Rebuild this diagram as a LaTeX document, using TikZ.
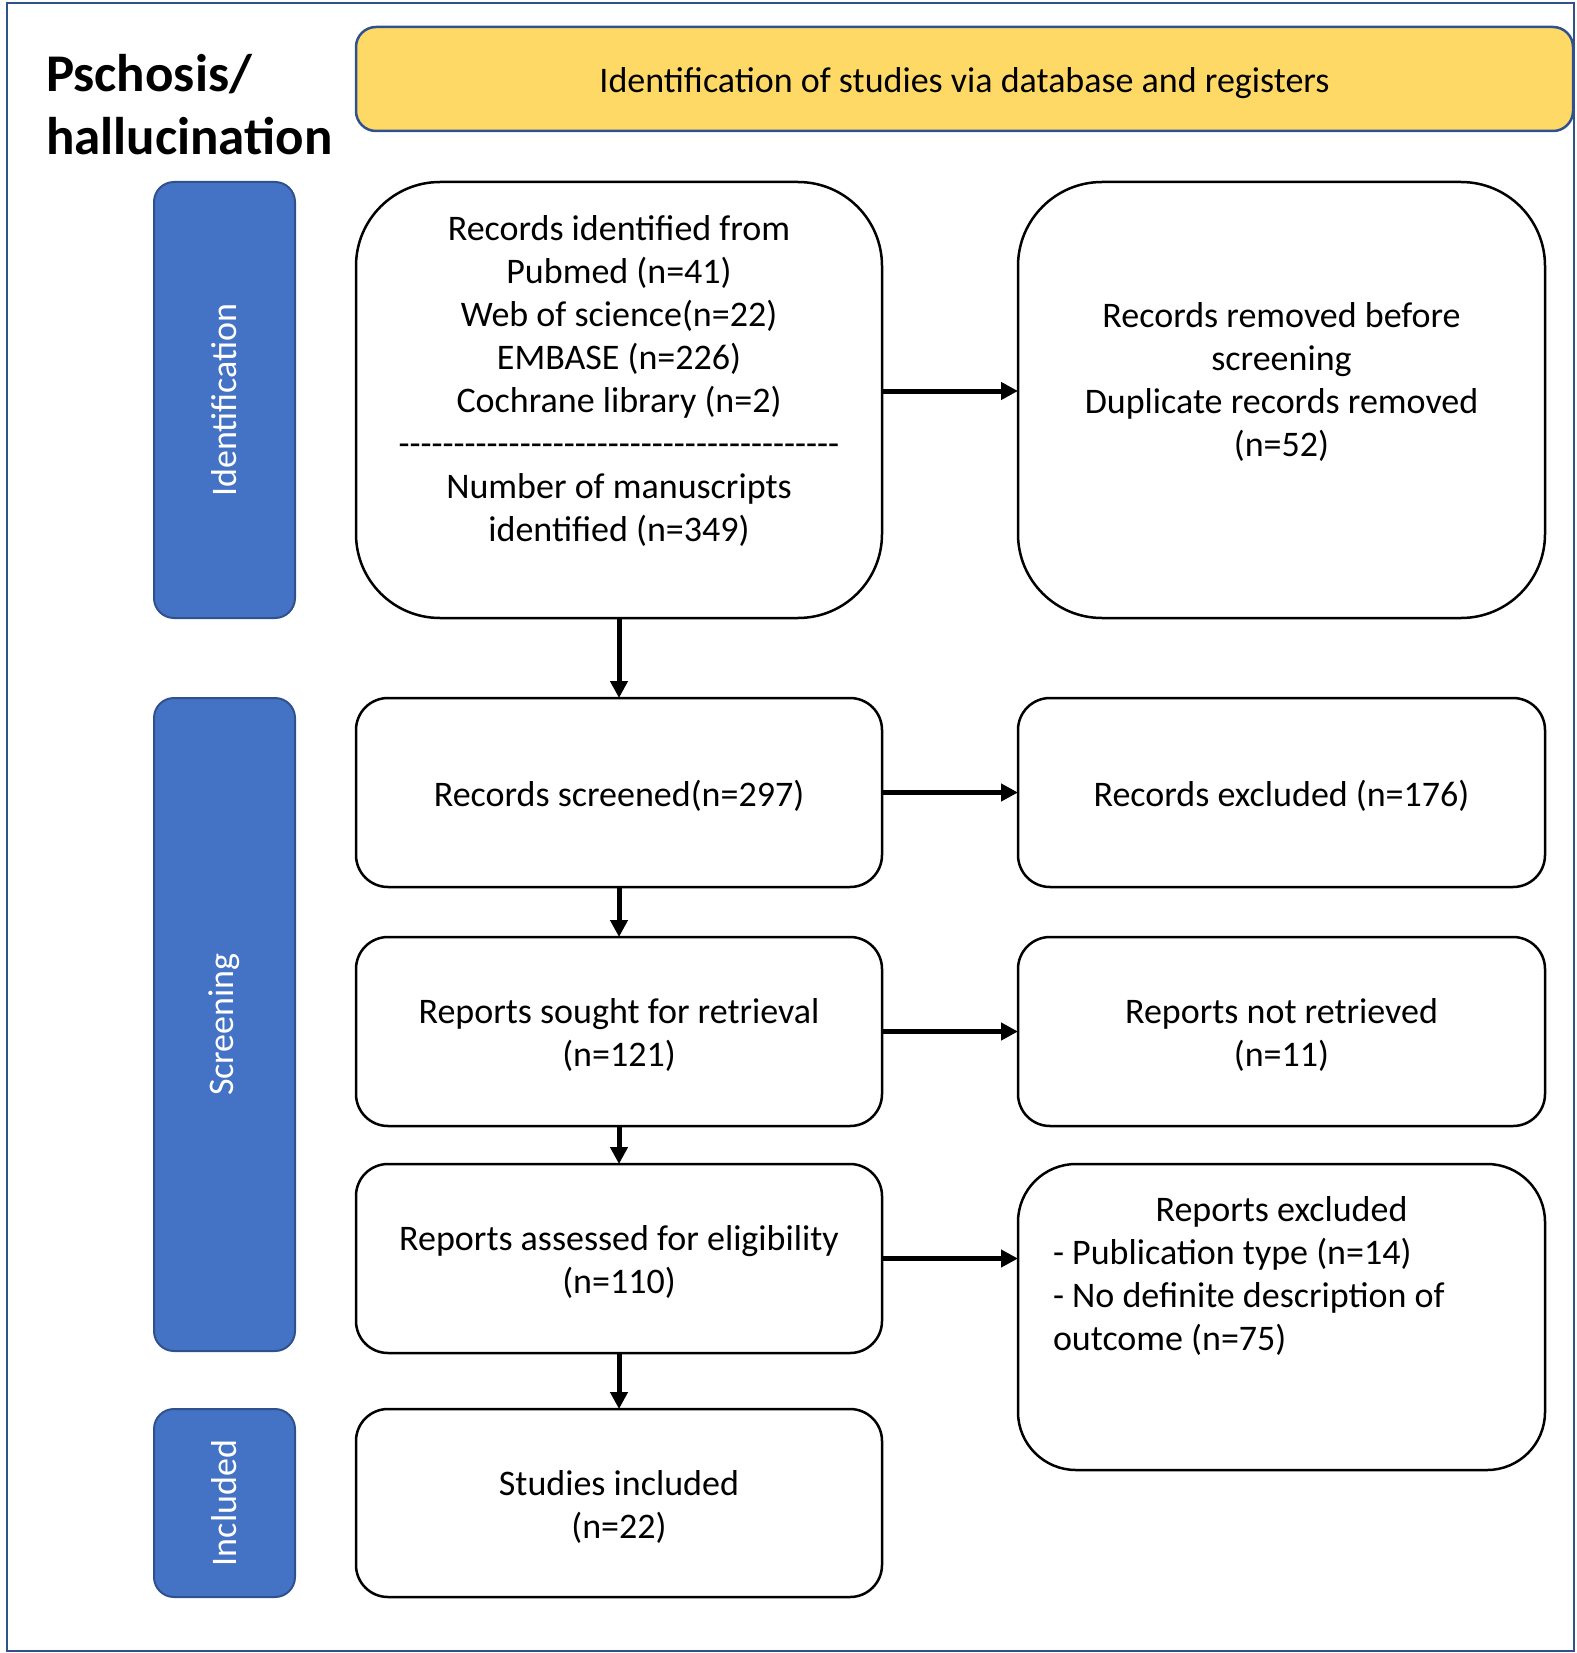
\documentclass[tikz,border=0pt]{standalone}
\usepackage{fontspec}
\setmainfont{Carlito}
\usetikzlibrary{arrows.meta}
\definecolor{frameblue}{HTML}{2F528F}
\definecolor{phaseblue}{HTML}{4472C4}
\definecolor{headyellow}{HTML}{FFD966}
\newcommand\hyph{-\kern0pt}
\newcommand\hyphten{\hyph\hyph\hyph\hyph\hyph\hyph\hyph\hyph\hyph\hyph}
\newcommand\tpad{\rule{0pt}{32pt}}
\newcommand\bpad[1]{\rule[-#1]{0pt}{0pt}}
\begin{document}
\begin{tikzpicture}[x=1pt,y=-1pt,
  every node/.style={font=\fontsize{36}{43}\selectfont, inner sep=0pt, outer sep=0pt},
  flowbox/.style={draw=black, line width=2.5pt, fill=white, align=center, rounded corners=#1},
  flowbox/.default=32pt,
  phasebox/.style={draw=frameblue, line width=2pt, fill=phaseblue, text=white, rounded corners=20pt, rotate=90, minimum height=141pt},
  flowarrow/.style={line width=5pt, -{Triangle[length=17pt,width=17pt]}}
]
\useasboundingbox (0,0) rectangle (1576,1653);
\draw[frameblue, line width=2.5pt] (7,3) rectangle (1574,1651);

\node[font=\fontsize{53}{63}\selectfont\bfseries, align=left, anchor=north west] (title) at (46,54) {Pschosis/\\hallucination};

\node[draw=frameblue, line width=2.5pt, fill=headyellow, rounded corners=20pt, minimum width=1217pt, minimum height=104pt] (head) at (964.5,79) {\rule{0pt}{33pt}Identification of studies via database and registers};

\node[phasebox, minimum width=436pt] (pid) at (224.5,400) {Identification};
\node[phasebox, minimum width=653pt] (pscr) at (224.5,1024.5) {Screening};
\node[phasebox, minimum width=188pt] (pinc) at (224.5,1503) {Included};

\node[flowbox=84pt, minimum width=526pt, minimum height=436pt] (b1) at (619,400)
  {\tpad Records identified from\\Pubmed (n=41)\\Web of science(n=22)\\EMBASE (n=226)\\Cochrane library (n=2)\\
   \hyphten\hyphten\hyphten\hyphten\\Number of manuscripts\\identified (n=349)\bpad{50pt}};
\node[flowbox=84pt, minimum width=527pt, minimum height=436pt] (r1) at (1281.5,400)
  {\tpad Records removed before\\screening\\Duplicate records removed\\(n=52)\bpad{48pt}};

\node[flowbox, minimum width=526pt, minimum height=189pt] (b2) at (619,792.5) {\tpad Records screened(n=297)};
\node[flowbox, minimum width=527pt, minimum height=189pt] (r2) at (1281.5,792.5) {\tpad Records excluded (n=176)};

\node[flowbox, minimum width=526pt, minimum height=189pt] (b3) at (619,1031.5) {\tpad Reports sought for retrieval\\(n=121)};
\node[flowbox, minimum width=527pt, minimum height=189pt] (r3) at (1281.5,1031.5) {\tpad Reports not retrieved\\(n=11)};

\node[flowbox, minimum width=526pt, minimum height=189pt] (b4) at (619,1258.5) {\tpad Reports assessed for eligibility\\(n=110)};
\node[flowbox=58pt, align=flush left, text width=457pt, minimum width=527pt, minimum height=306pt] (r4) at (1281.5,1317)
  {\tpad\makebox[457pt]{Reports excluded}\\- Publication type (n=14)\\- No definite description of\\outcome (n=75)\bpad{94pt}};

\node[flowbox, minimum width=526pt, minimum height=188pt] (b5) at (619,1503) {\tpad Studies included\\(n=22)};

\draw[flowarrow] ([yshift=9pt]b1.east) -- ([yshift=9pt]r1.west);
\draw[flowarrow] (b2.east) -- (r2.west);
\draw[flowarrow] (b3.east) -- (r3.west);
\draw[flowarrow] (b4.east) -- (r4.west |- b4.east);
\draw[flowarrow] (b1.south) -- (b2.north);
\draw[flowarrow] (b2.south) -- (b3.north);
\draw[flowarrow] (b3.south) -- (b4.north);
\draw[flowarrow] (b4.south) -- (b5.north);
\end{tikzpicture}
\end{document}
